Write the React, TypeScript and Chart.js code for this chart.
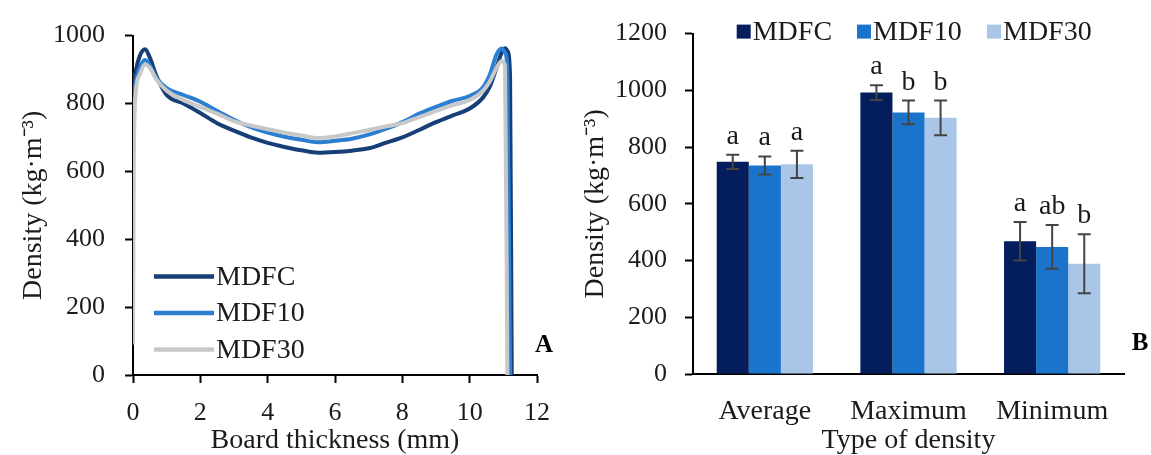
import React, { useEffect, useRef } from 'react';
import { Chart, registerables } from 'chart.js';

Chart.register(...registerables);

// ---------- Data: panel A (density profile) ----------
const thickness = [0, 0.02, 0.08, 0.2, 0.36, 0.5, 0.7, 1.0, 1.5, 2.0, 2.5, 3.0, 3.5, 4.0, 4.5, 5.0, 5.5, 6.0, 6.5, 7.0, 7.5, 8.0, 8.5, 9.0, 9.5, 10.0, 10.4, 10.6, 10.8, 10.95, 11.05, 11.12, 11.2, 11.25];
const profileMDFC = [780, 850, 895, 940, 960, 935, 880, 825, 800, 772, 742, 720, 700, 684, 672, 662, 655, 657, 661, 668, 684, 700, 722, 745, 765, 785, 818, 850, 906, 950, 963, 955, 880, 0];
const profileMDF10 = [700, 800, 860, 905, 928, 912, 875, 845, 825, 805, 778, 752, 730, 714, 702, 693, 686, 690, 696, 708, 725, 745, 770, 790, 808, 822, 848, 885, 945, 962, 950, 900, 0, null];
const profileMDF30 = [90, 600, 830, 885, 915, 905, 870, 838, 810, 790, 770, 748, 735, 724, 714, 706, 698, 703, 712, 722, 732, 742, 760, 778, 795, 810, 838, 865, 905, 925, 910, 0, null, null];

// ---------- Data: panel B (type of density) ----------
const densityTypes = ['Average', 'Maximum', 'Minimum'];
const seriesNames = ['MDFC', 'MDF10', 'MDF30'];
const barMDFC = [748, 992, 468];
const barMDF10 = [735, 922, 448];
const barMDF30 = [739, 903, 389];
const errMDFC = [25, 26, 68];
const errMDF10 = [32, 42, 77];
const errMDF30 = [48, 61, 104];
const lettersMDFC = ['a', 'a', 'a'];
const lettersMDF10 = ['a', 'b', 'ab'];
const lettersMDF30 = ['a', 'b', 'b'];

const profileX = [0, 12];
const profileTicks = [0, 200, 400, 600, 800, 1000];
const barTicks = [0, 200, 400, 600, 800, 1000, 1200];

// ---------- Styles ----------
const SERIF = "'Liberation Serif', 'Times New Roman', serif";
const TEXT = '#1b1b1b';
const lineColors = ['#163f77', '#2b7ed0', '#c8c8c8'];
const barColors = ['#041d5d', '#1b74cb', '#a9c5e7'];

const profiles = [profileMDFC, profileMDF10, profileMDF30];
const barValues = [barMDFC, barMDF10, barMDF30];
const barErrors = [errMDFC, errMDF10, errMDF30];
const barLetters = [lettersMDFC, lettersMDF10, lettersMDF30];

const plainTick = (v: any) => String(v);

const leftDecor = {
  id: 'leftDecor',
  afterDraw(chart: any) {
    const { ctx, chartArea } = chart;
    ctx.save();
    const rows = [241, 277.5, 314];
    seriesNames.forEach((name, i) => {
      const y = chartArea.top + rows[i];
      ctx.strokeStyle = lineColors[i];
      ctx.lineWidth = 4.5;
      ctx.beginPath();
      ctx.moveTo(chartArea.left + 21, y);
      ctx.lineTo(chartArea.left + 81, y);
      ctx.stroke();
      ctx.fillStyle = TEXT;
      ctx.font = `28px ${SERIF}`;
      ctx.textAlign = 'left';
      ctx.textBaseline = 'middle';
      ctx.fillText(name, chartArea.left + 83, y + 1);
    });
    ctx.font = `bold 25px ${SERIF}`;
    ctx.textAlign = 'center';
    ctx.textBaseline = 'middle';
    ctx.fillStyle = '#000';
    ctx.fillText('A', chartArea.right + 7, chartArea.top + 310);
    ctx.restore();
  },
};

const rightDecor = {
  id: 'rightDecor',
  afterDatasetsDraw(chart: any) {
    const { ctx } = chart;
    const yScale = chart.scales.y;
    ctx.save();
    chart.data.datasets.forEach((ds: any, i: number) => {
      const meta = chart.getDatasetMeta(i);
      meta.data.forEach((bar: any, j: number) => {
        const v = barValues[i][j];
        const e = barErrors[i][j];
        const x = bar.x;
        const yTop = yScale.getPixelForValue(v + e);
        const yBot = yScale.getPixelForValue(v - e);
        ctx.strokeStyle = '#444444';
        ctx.lineWidth = 2;
        ctx.beginPath();
        ctx.moveTo(x, yTop);
        ctx.lineTo(x, yBot);
        ctx.moveTo(x - 6.5, yTop);
        ctx.lineTo(x + 6.5, yTop);
        ctx.moveTo(x - 6.5, yBot);
        ctx.lineTo(x + 6.5, yBot);
        ctx.stroke();
        ctx.fillStyle = TEXT;
        ctx.font = `28px ${SERIF}`;
        ctx.textAlign = 'center';
        ctx.textBaseline = 'alphabetic';
        ctx.fillText(barLetters[i][j], x, yTop - 11);
      });
    });
    ctx.restore();
  },
  afterDraw(chart: any) {
    const { ctx, chartArea } = chart;
    ctx.save();
    const offs = [43.7, 164, 294];
    seriesNames.forEach((name, i) => {
      const x = chartArea.left + offs[i];
      const yc = chartArea.top - 2;
      ctx.fillStyle = barColors[i];
      ctx.fillRect(x, yc - 7, 14, 14);
      ctx.fillStyle = TEXT;
      ctx.font = `28px ${SERIF}`;
      ctx.textAlign = 'left';
      ctx.textBaseline = 'middle';
      ctx.fillText(name, x + 16, yc + 1);
    });
    ctx.font = `bold 25px ${SERIF}`;
    ctx.textAlign = 'center';
    ctx.textBaseline = 'middle';
    ctx.fillStyle = '#000';
    ctx.fillText('B', chartArea.right + 16, chartArea.top + 310);
    ctx.restore();
  },
};

function leftConfig(): any {
  return {
    type: 'line',
    data: {
      datasets: seriesNames.map((name, i) => ({
        label: name,
        data: thickness.map((t, j) => ({ x: t, y: profiles[i][j] })),
        borderColor: lineColors[i],
        backgroundColor: lineColors[i],
        borderWidth: 4,
        pointRadius: 0,
        cubicInterpolationMode: 'monotone',
        fill: false,
        spanGaps: false,
        order: 3 - i,
      })),
    },
    options: {
      animation: false,
      responsive: false,
      layout: { padding: { top: 31, right: 38, left: 0, bottom: 0 } },
      plugins: { legend: { display: false }, tooltip: { enabled: false } },
      scales: {
        x: {
          type: 'linear',
          min: profileX[0],
          max: profileX[1],
          ticks: { stepSize: 2, color: TEXT, font: { family: SERIF, size: 26 }, padding: 15, callback: plainTick },
          grid: { drawOnChartArea: false, drawTicks: true, tickLength: 8, tickColor: '#000', tickWidth: 2 },
          border: { display: true, color: '#000', width: 2 },
          title: {
            display: true,
            text: 'Board thickness (mm)',
            color: TEXT,
            font: { family: SERIF, size: 28, lineHeight: 1 },
            padding: { top: 0, bottom: 0 },
          },
          afterFit: (s: any) => { s.height = 80; },
        },
        y: {
          min: profileTicks[0],
          max: profileTicks[profileTicks.length - 1],
          ticks: { stepSize: 200, color: TEXT, font: { family: SERIF, size: 26 }, padding: 20, callback: plainTick },
          grid: { drawOnChartArea: false, drawTicks: true, tickLength: 8, tickColor: '#000', tickWidth: 2 },
          border: { display: true, color: '#000', width: 2 },
          title: {
            display: true,
            text: 'Density (kg·m⁻³)',
            color: TEXT,
            font: { family: SERIF, size: 28 },
            padding: { top: 17, bottom: 0 },
          },
          afterFit: (s: any) => { s.width = 133; },
        },
      },
    },
    plugins: [leftDecor],
  };
}

function rightConfig(): any {
  return {
    type: 'bar',
    data: {
      labels: densityTypes,
      datasets: seriesNames.map((name, i) => ({
        label: name,
        data: barValues[i],
        backgroundColor: barColors[i],
        borderWidth: 0,
        categoryPercentage: 0.67,
        barPercentage: 1.0,
      })),
    },
    options: {
      animation: false,
      responsive: false,
      layout: { padding: { top: 29, right: 27, left: 0, bottom: 0 } },
      plugins: { legend: { display: false }, tooltip: { enabled: false } },
      scales: {
        x: {
          ticks: { color: TEXT, font: { family: SERIF, size: 28 }, padding: 21 },
          grid: { display: false, drawTicks: false, tickLength: 0 },
          border: { display: true, color: '#000', width: 2 },
          title: {
            display: true,
            text: 'Type of density',
            color: TEXT,
            font: { family: SERIF, size: 28, lineHeight: 1 },
            padding: { top: 0, bottom: 0 },
          },
          afterFit: (s: any) => { s.height = 81; },
        },
        y: {
          min: barTicks[0],
          max: barTicks[barTicks.length - 1],
          ticks: { stepSize: 200, color: TEXT, font: { family: SERIF, size: 26 }, padding: 18, callback: plainTick },
          grid: { drawOnChartArea: false, drawTicks: true, tickLength: 8, tickColor: '#000', tickWidth: 2 },
          border: { display: true, color: '#000', width: 2 },
          title: {
            display: true,
            text: 'Density (kg·m⁻³)',
            color: TEXT,
            font: { family: SERIF, size: 28 },
            padding: { top: 4, bottom: 0 },
          },
          afterFit: (s: any) => { s.width = 118; },
        },
      },
    },
    plugins: [rightDecor],
  };
}

export default function App() {
  const leftRef = useRef<HTMLCanvasElement>(null);
  const rightRef = useRef<HTMLCanvasElement>(null);

  useEffect(() => {
    const c1 = new Chart(leftRef.current as HTMLCanvasElement, leftConfig());
    const c2 = new Chart(rightRef.current as HTMLCanvasElement, rightConfig());
    return () => {
      c1.destroy();
      c2.destroy();
    };
  }, []);

  return (
    <div style={{ position: 'absolute', left: 0, top: 0, width: 1151, height: 455, background: '#fff', overflow: 'hidden' }}>
      <canvas ref={leftRef} width={575} height={455} style={{ position: 'absolute', left: 0, top: 0, width: 575, height: 455 }} />
      <canvas ref={rightRef} width={576} height={455} style={{ position: 'absolute', left: 575, top: 0, width: 576, height: 455 }} />
    </div>
  );
}
